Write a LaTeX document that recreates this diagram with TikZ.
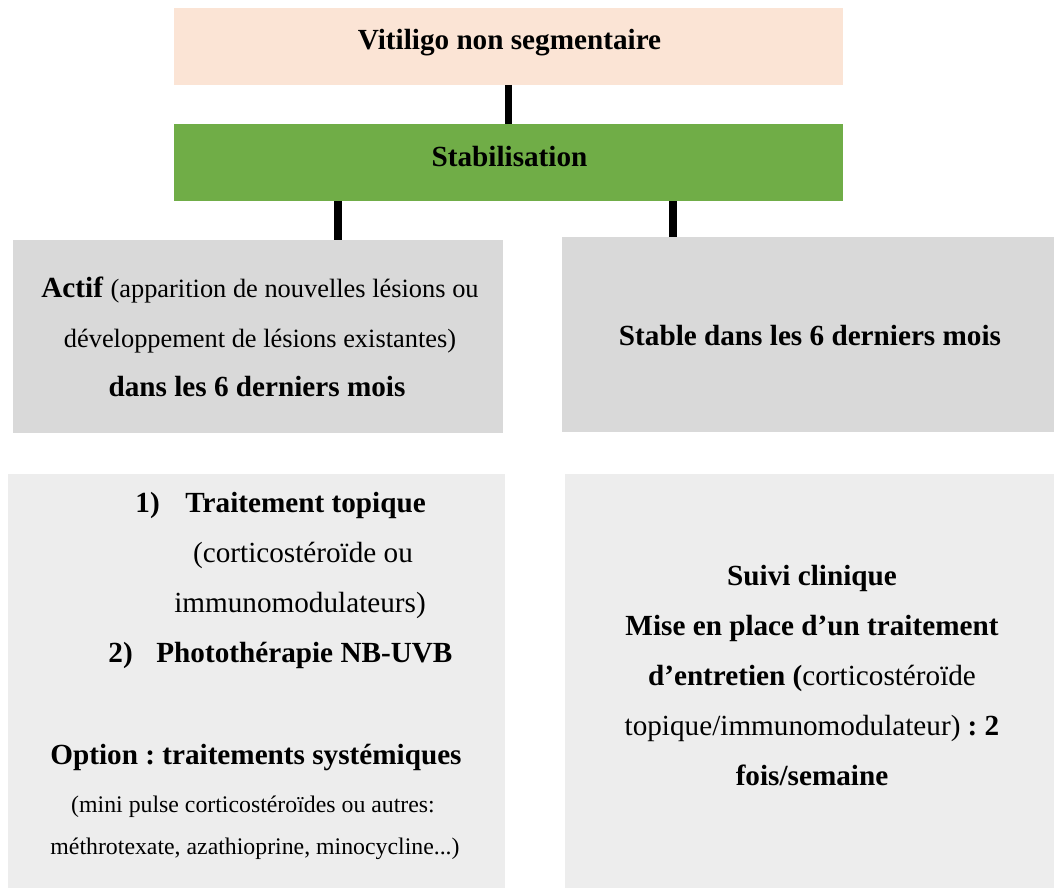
\documentclass[tikz,border=0pt]{standalone}
\usepackage{fontspec}
\setmainfont{Liberation Serif}
\usetikzlibrary{calc}
\definecolor{peach}{HTML}{FBE4D5}
\definecolor{leafgreen}{HTML}{70AD47}
\definecolor{greybox}{HTML}{D9D9D9}
\definecolor{paleblock}{HTML}{EDEDED}
\def\lesser#1{{\fontsize{13.2}{16}\selectfont #1}}
\tikzset{
	box/.style={inner sep=0pt, outer sep=0pt},
	txt/.style={anchor=base, inner sep=0pt, font=\fontsize{14.6}{17}\selectfont},
	txtw/.style={anchor=base west, inner sep=0pt, font=\fontsize{14.6}{17}\selectfont},
	smalltxt/.style={anchor=base, inner sep=0pt, font=\fontsize{11.9}{14}\selectfont},
	bar/.style={line width=3.75pt},
}

\begin{document}
\frenchspacing
\begin{tikzpicture}[x=0.5pt, y=-0.5pt]
			%%%%% START %%%%%
			\useasboundingbox (0, 0) rectangle (1054, 888);
			
			\node[box, fill=peach, minimum width=334.5pt, minimum height=38.5pt] (vns) at (508.5, 46.5) {};
			\node[txt] (vnsT) at (509.5, 50) {\textbf{Vitiligo non segmentaire}};
			
			\node[box, fill=leafgreen, minimum width=334.5pt, minimum height=38.5pt] (stab) at (508.5, 162.5) {};
			\node[txt] (stabT) at (509.5, 166) {\textbf{Stabilisation}};
			
			\node[box, fill=greybox, minimum width=245pt, minimum height=96.5pt] (actif) at (258, 336.5) {};
			\node[txt] (actif1) at (260, 297) {\textbf{Actif} \lesser{(apparition de nouvelles lésions ou}};
			\node[txt] (actif2) at (260, 347) {\lesser{développement de lésions existantes)}};
			\node[txt] (actif3) at (257, 396) {\textbf{dans les 6 derniers mois}};
			
			\node[box, fill=greybox, minimum width=246pt, minimum height=97.5pt] (stable) at (808, 334.5) {};
			\node[txt] (stableT) at (810, 345) {\textbf{Stable dans les 6 derniers mois}};
			
			\node[box, fill=paleblock, minimum width=248.5pt, minimum height=207pt] (trait) at (256.5, 680.5) {};
			\node[txtw] (num1) at (135, 512) {\textbf{1)}};
			\node[txtw] (trait1) at (185, 512) {\textbf{Traitement topique}};
			\node[txt] (trait2) at (303, 562) {(corticostéroïde ou};
			\node[txt] (trait3) at (300, 612) {immunomodulateurs)};
			\node[txtw] (num2) at (108, 662) {\textbf{2)}};
			\node[txtw] (trait4) at (156, 662) {\textbf{Photothérapie NB-UVB}};
			\node[txt] (option) at (256, 764) {\textbf{Option : traitements systémiques}};
			\node[smalltxt] (option1) at (253, 812) {(mini pulse corticostéroïdes ou autres:};
			\node[smalltxt] (option2) at (255, 854) {méthrotexate, azathioprine, minocycline...)};
			
			\node[box, fill=paleblock, minimum width=244.5pt, minimum height=207pt] (suivi) at (809.5, 680.5) {};
			\node[txt] (suivi1) at (812, 585) {\textbf{Suivi clinique}};
			\node[txt] (suivi2) at (812, 635) {\textbf{Mise en place d’un traitement}};
			\node[txt] (suivi3) at (812, 685) {\textbf{d’entretien (}corticostéroïde};
			\node[txt] (suivi4) at (812, 735) {topique/immunomodulateur) \textbf{: 2}};
			\node[txt] (suivi5) at (812, 785) {\textbf{fois/semaine}};
			
			\coordinate (jl) at (338, 0);
			\coordinate (jr) at (673, 0);
			\draw[bar] (vns.south) -- (stab.north);
			\draw[bar] (stab.south -| jl) -- (actif.north -| jl);
			\draw[bar] (stab.south -| jr) -- (stable.north -| jr);
			%%%%% END %%%%%
\end{tikzpicture}
\end{document}
